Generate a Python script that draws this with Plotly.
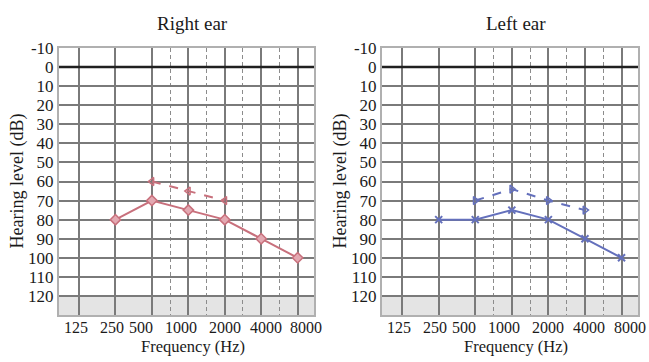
import math
import plotly.graph_objects as go

# ---- data ----
freq_labels = ["125", "250", "500", "1000", "2000", "4000", "8000"]
db_ticks = [-10, 0, 10, 20, 30, 40, 50, 60, 70, 80, 90, 100, 110, 120]

right_air_freq = [250, 500, 1000, 2000, 4000, 8000]
right_air_db = [80, 70, 75, 80, 90, 100]
right_bone_freq = [500, 1000, 2000]
right_bone_db = [60, 65, 70]

left_air_freq = [250, 500, 1000, 2000, 4000, 8000]
left_air_db = [80, 80, 75, 80, 90, 100]
left_bone_freq = [500, 1000, 2000, 4000]
left_bone_db = [70, 64, 70, 75]


def oct_pos(f):
    return math.log2(f / 125.0)


RED = "#c8707c"
BLUE = "#6470bc"
FONT = "Liberation Serif"
TXT = "#1a1a1a"

fig = go.Figure()

# right ear
fig.add_trace(go.Scatter(x=[oct_pos(f) for f in right_air_freq], y=right_air_db,
                         mode="lines+markers", line=dict(color=RED, width=2),
                         marker=dict(symbol="diamond", size=8, color="#e3a9b2",
                                     line=dict(color=RED, width=1.5)),
                         xaxis="x", yaxis="y", showlegend=False))
fig.add_trace(go.Scatter(x=[oct_pos(f) for f in right_bone_freq], y=right_bone_db,
                         mode="lines+markers", line=dict(color=RED, width=2, dash="dash"),
                         marker=dict(symbol="triangle-left-open", size=7, color=RED,
                                     line=dict(color=RED, width=1.5)),
                         xaxis="x", yaxis="y", showlegend=False))
# left ear
fig.add_trace(go.Scatter(x=[oct_pos(f) for f in left_air_freq], y=left_air_db,
                         mode="lines+markers", line=dict(color=BLUE, width=2),
                         marker=dict(symbol="x-thin", size=7, color=BLUE,
                                     line=dict(color=BLUE, width=2)),
                         xaxis="x2", yaxis="y2", showlegend=False))
fig.add_trace(go.Scatter(x=[oct_pos(f) for f in left_bone_freq], y=left_bone_db,
                         mode="lines+markers", line=dict(color=BLUE, width=2, dash="dash"),
                         marker=dict(symbol="triangle-right-open", size=7, color=BLUE,
                                     line=dict(color=BLUE, width=1.5)),
                         xaxis="x2", yaxis="y2", showlegend=False))

W, H = 649, 362
top_px, bot_px = 48, 315
ydom = [1 - bot_px / H, 1 - top_px / H]
xdom1 = [59 / W, 314 / W]
xdom2 = [382 / W, 638 / W]
xrange_ = [-0.55, 6.45]

grid_vals = list(range(len(freq_labels)))
dash_vals = [2.5, 3.5, 4.5, 5.5]


def xaxis_cfg(dom, anchor):
    return dict(domain=dom, anchor=anchor, range=xrange_, tickvals=grid_vals,
                showticklabels=False, ticks="", showgrid=True, gridcolor="#7a7a7a",
                gridwidth=1.6, zeroline=False, showline=True, linecolor="#b0b0b0",
                linewidth=2, mirror=True, automargin=False,
                minor=dict(tickvals=dash_vals, showgrid=True, griddash="4px,3px",
                           gridcolor="#8c8c8c", gridwidth=1.2, ticks=""))


def yaxis_cfg(anchor):
    return dict(domain=ydom, anchor=anchor, range=[130, -10], tickvals=db_ticks,
                ticktext=[str(v) for v in db_ticks], ticks="", showgrid=True,
                gridcolor="#7a7a7a", gridwidth=1.6, zeroline=False, showline=True,
                linecolor="#b0b0b0", linewidth=2, mirror=True, automargin=False,
                tickfont=dict(family=FONT, size=17, color=TXT))


fig.update_layout(
    width=W, height=H, margin=dict(l=0, r=0, t=0, b=0),
    paper_bgcolor="white", plot_bgcolor="white",
    xaxis=xaxis_cfg(xdom1, "y"), yaxis=yaxis_cfg("x"),
    xaxis2=xaxis_cfg(xdom2, "y2"), yaxis2=yaxis_cfg("x2"),
)

shapes = []
annotations = []
label_offsets = [-0.08, -0.10, -0.30, -0.21, 0.0, 0.12, 0.22]
for xa, ya, title, ytitle_x in [("x", "y", "Right ear", 17), ("x2", "y2", "Left ear", 340)]:
    # shaded band below 120 dB
    shapes.append(dict(type="rect", xref=f"{xa} domain", yref=ya, x0=0, x1=1, y0=120, y1=130,
                       fillcolor="#e4e4e4", line=dict(width=0), layer="below"))
    # 0 dB reference line
    shapes.append(dict(type="line", xref=f"{xa} domain", yref=ya, x0=0, x1=1, y0=0, y1=0,
                       line=dict(color="#202020", width=2.5), layer="above"))
    dom = xdom1 if xa == "x" else xdom2
    for i, lab in enumerate(freq_labels):
        annotations.append(dict(text=lab, xref=xa, yref="paper", x=i + label_offsets[i],
                                y=1 - 327 / H, showarrow=False, xanchor="center",
                                yanchor="middle",
                                font=dict(family=FONT, size=16, color=TXT)))
    annotations.append(dict(text="Frequency (Hz)", xref="paper", yref="paper",
                            x=(dom[0] + dom[1]) / 2 + 0.01, y=1 - 346 / H, showarrow=False,
                            xanchor="center", yanchor="middle",
                            font=dict(family=FONT, size=16.5, color=TXT)))
    annotations.append(dict(text=title, xref="paper", yref="paper",
                            x=(dom[0] + dom[1]) / 2 + 0.01, y=1 - 23 / H, showarrow=False,
                            xanchor="center", yanchor="middle",
                            font=dict(family=FONT, size=19, color=TXT)))
    annotations.append(dict(text="Hearing level (dB)", xref="paper", yref="paper",
                            x=ytitle_x / W, y=(ydom[0] + ydom[1]) / 2, showarrow=False,
                            textangle=-90, xanchor="center", yanchor="middle",
                            font=dict(family=FONT, size=18, color=TXT)))

fig.update_layout(shapes=shapes, annotations=annotations)
fig.write_html("out.html", config={"displayModeBar": False},
               post_script="document.body.style.margin='0';")
